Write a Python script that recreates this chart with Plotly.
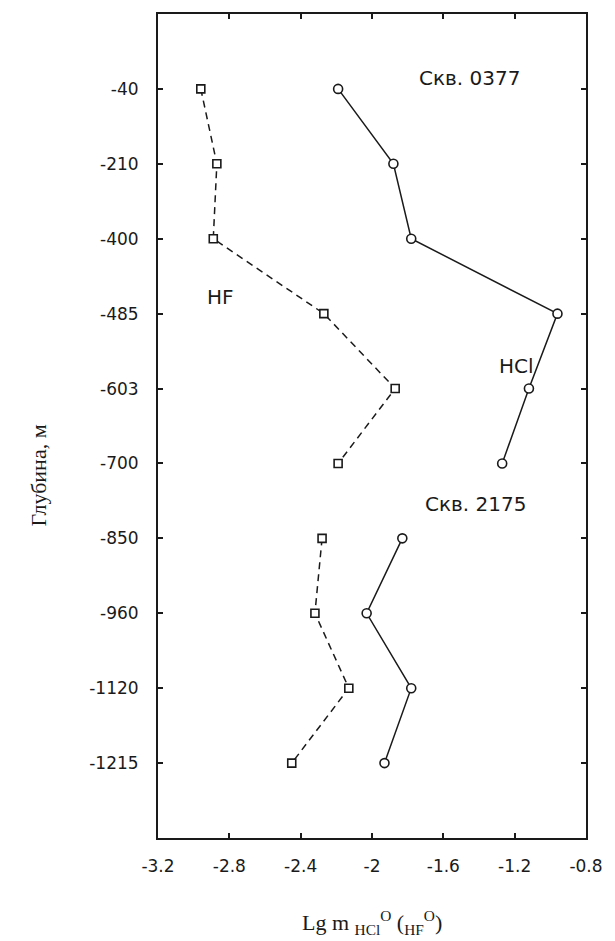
import plotly.graph_objects as go

# Depth labels (categorical y positions, top to bottom)
depths = ["-40", "-210", "-400", "-485", "-603", "-700", "-850", "-960", "-1120", "-1215"]

# Well 0377
depth_0377 = ["-40", "-210", "-400", "-485", "-603", "-700"]
hf_0377 = [-2.96, -2.87, -2.89, -2.27, -1.87, -2.19]
hcl_0377 = [-2.19, -1.88, -1.78, -0.96, -1.12, -1.27]

# Well 2175
depth_2175 = ["-850", "-960", "-1120", "-1215"]
hf_2175 = [-2.28, -2.32, -2.13, -2.45]
hcl_2175 = [-1.83, -2.03, -1.78, -1.93]

x_ticks = [-3.2, -2.8, -2.4, -2.0, -1.6, -1.2, -0.8]
x_ticktext = ["-3.2", "-2.8", "-2.4", "-2", "-1.6", "-1.2", "-0.8"]

INK = "#1a1a1a"
SANS = "DejaVu Sans, Arial, sans-serif"
SERIF = "Liberation Serif, Times New Roman, serif"
TICK_FONT = dict(family=SANS, size=17, color=INK)

fig = go.Figure()

def add_series(x, y, dash, symbol, size):
    fig.add_trace(go.Scatter(
        x=x, y=y, mode="lines+markers",
        line=dict(color=INK, width=1.5, dash=dash),
        marker=dict(symbol=symbol, size=size, color="white",
                    line=dict(color=INK, width=1.6)),
        showlegend=False, hoverinfo="x+y",
    ))

add_series(hf_0377, depth_0377, "7px,5px", "square", 8)
add_series(hcl_0377, depth_0377, "solid", "circle", 9)
add_series(hf_2175, depth_2175, "7px,5px", "square", 8)
add_series(hcl_2175, depth_2175, "solid", "circle", 9)

labels = [
    ("Скв. 0377", -1.455, -0.15),
    ("HF", -2.85, 2.78),
    ("HCl", -1.19, 3.70),
    ("Скв. 2175", -1.42, 5.54),
]
for txt, lx, ly in labels:
    fig.add_annotation(x=lx, y=ly, text=txt, showarrow=False,
                       font=dict(family=SANS, size=20, color=INK),
                       xanchor="center", yanchor="middle")

# Axis titles
fig.add_annotation(xref="paper", yref="paper", x=0.5, y=-0.103,
                   text="Lg m <sub>HCl</sub><sup>O</sup> (<sub>HF</sub><sup>O</sup>)",
                   showarrow=False, xanchor="center", yanchor="middle",
                   font=dict(family=SERIF, size=22, color=INK))
fig.add_annotation(xref="paper", yref="paper", x=-0.28, y=0.44,
                   text="Глубина, м", textangle=-90, showarrow=False,
                   xanchor="center", yanchor="middle",
                   font=dict(family=SERIF, size=22, color=INK))

fig.update_xaxes(
    range=[-3.2, -0.8], tickvals=x_ticks, ticktext=x_ticktext,
    ticks="inside", ticklen=5, tickwidth=1.5, tickcolor=INK,
    showline=True, linecolor=INK, linewidth=2, mirror="allticks",
    showgrid=False, zeroline=False, tickfont=TICK_FONT, ticklabelstandoff=12,
)
fig.update_yaxes(
    type="category", categoryorder="array", categoryarray=depths,
    range=[10, -1],
    ticks="inside", ticklen=5, tickwidth=1.5, tickcolor=INK,
    showline=True, linecolor=INK, linewidth=2, mirror="allticks",
    showgrid=False, zeroline=False, tickfont=TICK_FONT, ticklabelstandoff=14,
)

fig.update_layout(
    width=615, height=941,
    margin=dict(l=158, r=21, t=14, b=103),
    paper_bgcolor="white", plot_bgcolor="white",
)

# remove the browser's default 8px body margin so the figure fills the window
fig.write_html("out.html", config={"displayModeBar": False},
               post_script="document.body.style.margin='0';")
